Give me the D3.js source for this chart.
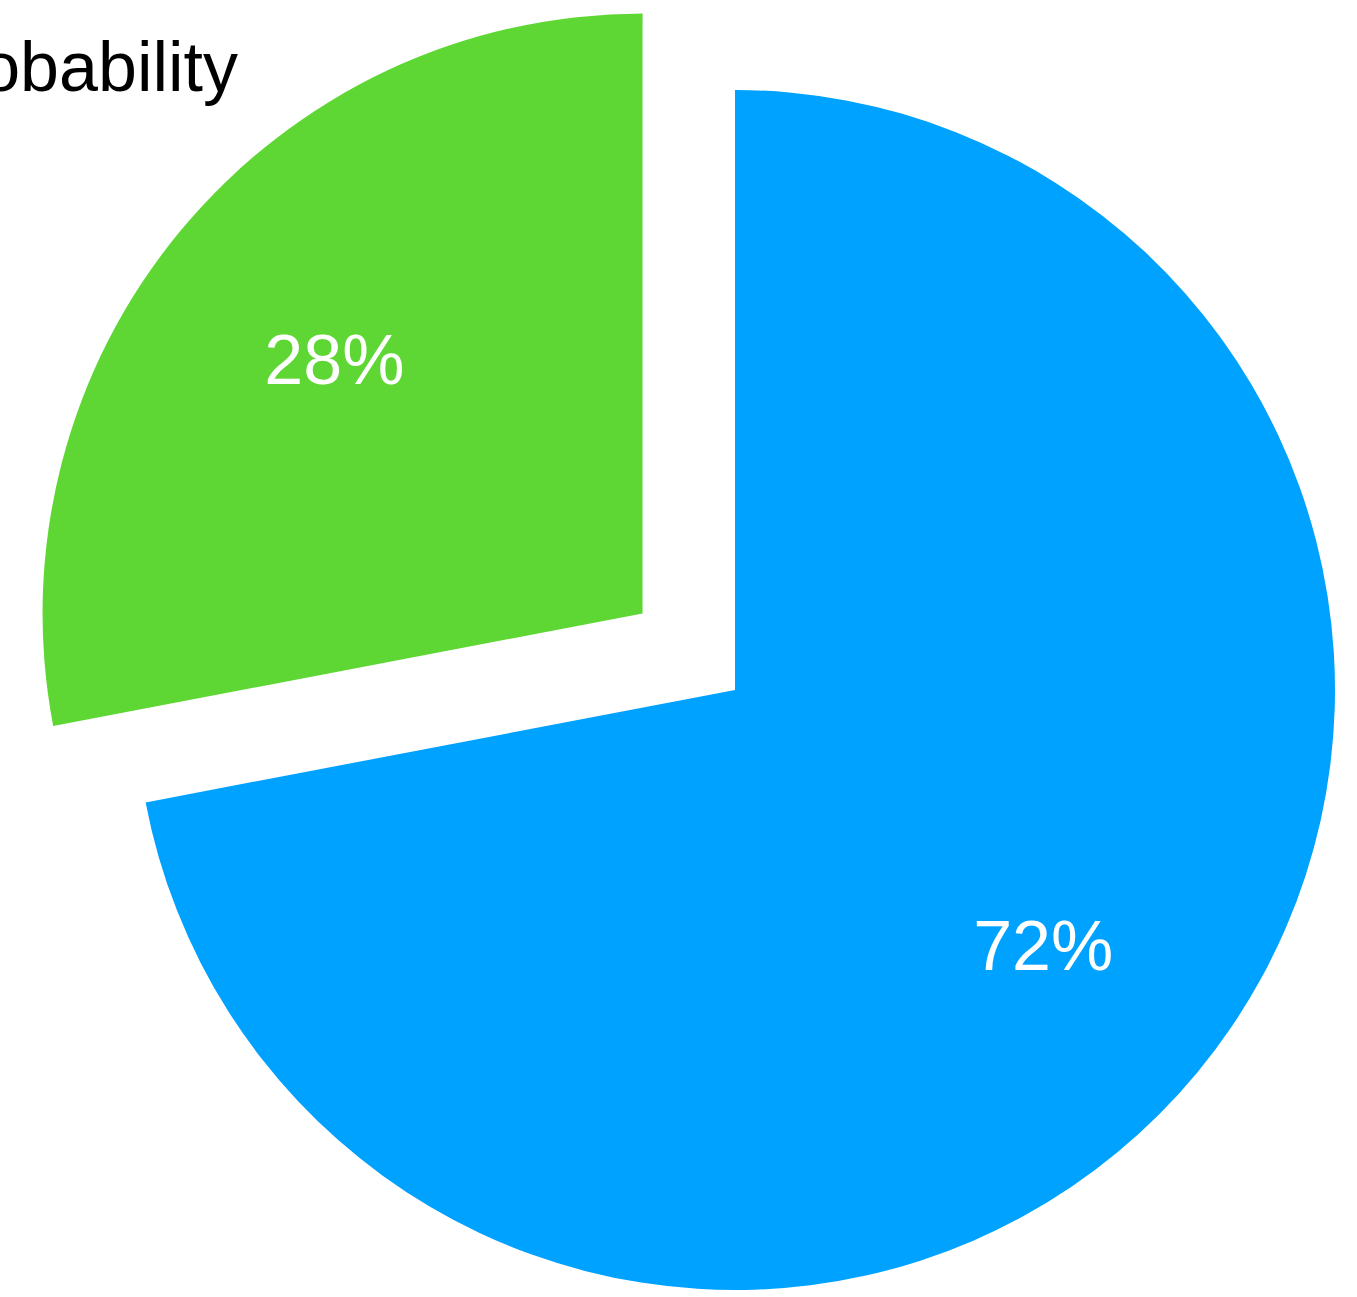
<!DOCTYPE html>
<html>
<head>
<meta charset="utf-8">
<script src="https://cdn.jsdelivr.net/npm/d3@7"></script>
<style>
  html, body { margin: 0; padding: 0; background: #fff; overflow: hidden; }
  svg { display: block; }
  text { font-family: "Liberation Sans", Arial, Helvetica, sans-serif; }
</style>
</head>
<body>
<script>
// Two-slice probability pie; the smaller slice is pulled out from the centre.
const categories = ["A", "B"];
const values = [72, 28];
const colors = ["#00A2FF", "#5ED734"];
const exploded = [false, true];
const titleText = "Probability";

const W = 1357, H = 1297;
const cx = 735, cy = 690, R = 600, explodeDist = 120, labelR = 400;

const svg = d3.select("body").append("svg")
  .attr("width", W).attr("height", H);

const data = categories.map((c, i) => ({ cat: c, value: values[i], color: colors[i], out: exploded[i] }));

const pie = d3.pie().value(d => d.value).sort(null).startAngle(0).endAngle(2 * Math.PI);
const arc = d3.arc().innerRadius(0).outerRadius(R);
const labelArc = d3.arc().innerRadius(labelR).outerRadius(labelR);

const g = svg.append("g").attr("transform", `translate(${cx},${cy})`);

const slices = g.selectAll("g.slice")
  .data(pie(data))
  .join("g")
  .attr("class", "slice")
  .attr("transform", d => {
    if (!d.data.out) return null;
    const mid = (d.startAngle + d.endAngle) / 2;
    return `translate(${Math.sin(mid) * explodeDist},${-Math.cos(mid) * explodeDist})`;
  });

slices.append("path")
  .attr("d", arc)
  .attr("fill", d => d.data.color);

slices.append("text")
  .attr("transform", d => `translate(${labelArc.centroid(d)})`)
  .attr("text-anchor", "middle")
  .attr("dy", "0.36em")
  .attr("fill", "#fff")
  .attr("font-size", 70)
  .text(d => Math.round(d.value / d3.sum(values) * 100) + "%");

svg.append("text")
  .attr("x", 238)
  .attr("y", 91)
  .attr("text-anchor", "end")
  .attr("font-size", 70)
  .attr("fill", "#000")
  .text(titleText);
</script>
</body>
</html>
